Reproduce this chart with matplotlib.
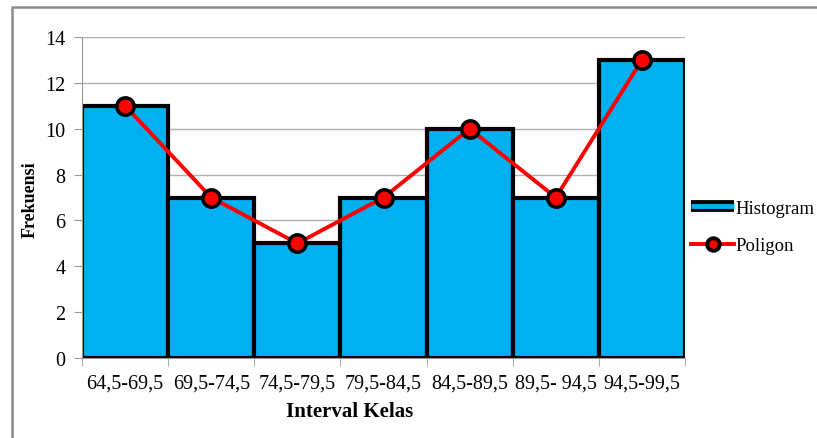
import matplotlib
matplotlib.use("Agg")
import matplotlib.pyplot as plt
from matplotlib.lines import Line2D
from matplotlib.legend_handler import HandlerTuple

# Frequency distribution per class interval
kelas = ["64,5-69,5", "69,5-74,5", "74,5-79,5", "79,5-84,5",
         "84,5-89,5", "89,5- 94,5", "94,5-99,5"]
frekuensi = [11, 7, 5, 7, 10, 7, 13]
y_ticks = [0, 2, 4, 6, 8, 10, 12, 14]

plt.rcParams["font.family"] = ["Liberation Serif", "DejaVu Serif"]

fig = plt.figure(figsize=(8.17, 4.39), dpi=100)
ax = fig.add_axes([82 / 817, 1 - 359 / 439, 603 / 817, 321 / 439])

n = len(kelas)
lefts = list(range(n))
centers = [i + 0.5 for i in lefts]

ax.bar(lefts, frekuensi, width=1.0, align="edge", color="#00B0F0",
       edgecolor="black", linewidth=3, zorder=2)
ax.plot(centers, frekuensi, color="red", linewidth=2.8, marker="o",
        markersize=12.5, markerfacecolor="red", markeredgecolor="black",
        markeredgewidth=2.5, zorder=3, clip_on=False)

ax.set_xlim(0, n)
ax.set_ylim(0, 14)
ax.set_yticks(y_ticks)
ax.set_yticklabels([str(v) for v in y_ticks], fontsize=14.5)
ax.yaxis.grid(True, color="#b0b0b0", linewidth=1.0, zorder=0)
ax.set_axisbelow(True)

ax.set_xticks(centers)
ax.set_xticklabels(kelas, fontsize=14.5)
ax.set_xticks(range(n + 1), minor=True)
ax.tick_params(axis="x", which="major", length=0, pad=11)
ax.tick_params(axis="x", which="minor", length=6, color="#999999")
ax.tick_params(axis="y", length=6, color="#999999", pad=6)

for side in ("top", "right"):
    ax.spines[side].set_visible(False)
ax.spines["left"].set_color("#999999")
ax.spines["bottom"].set_color("#999999")

ax.set_xlabel("Interval Kelas", fontsize=15, fontweight="bold")
ax.xaxis.set_label_coords((350 - 82) / 603, (359 - 412) / 321)
ax.xaxis.label.set_verticalalignment("center")
ax.set_ylabel("Frekuensi", fontsize=13, fontweight="bold")
ax.yaxis.set_label_coords((30 - 82) / 603, (359 - 200) / 321)
ax.yaxis.label.set_verticalalignment("center")

# Legend: a flat outlined bar for the histogram and a marked line for the polygon
hist_outer = Line2D([], [], color="black", linewidth=8.5, solid_capstyle="butt")
hist_inner = Line2D([], [], color="#00B0F0", linewidth=3.5, solid_capstyle="butt")
poly_handle = Line2D([], [], color="red", linewidth=2.8, marker="o",
                     markersize=9, markerfacecolor="red",
                     markeredgecolor="black", markeredgewidth=2.8)
fig.legend([(hist_outer, hist_inner), poly_handle], ["Histogram", "Poligon"],
           handler_map={tuple: HandlerTuple(ndivide=1)},
           loc="center left", bbox_to_anchor=(691 / 817, 1 - 228 / 439),
           frameon=False, fontsize=13.5, handlelength=2.3, handletextpad=0.05,
           labelspacing=1.1, borderpad=0, borderaxespad=0)

# Chart border (only left and top edges fall inside the canvas)
fig.add_artist(Line2D([12 / 817, 12 / 817, 1.0], [0.0, 1 - 8 / 439, 1 - 8 / 439],
                      color="#8c8c8c", linewidth=1.8, transform=fig.transFigure))

fig.savefig("out.png", dpi=100)
